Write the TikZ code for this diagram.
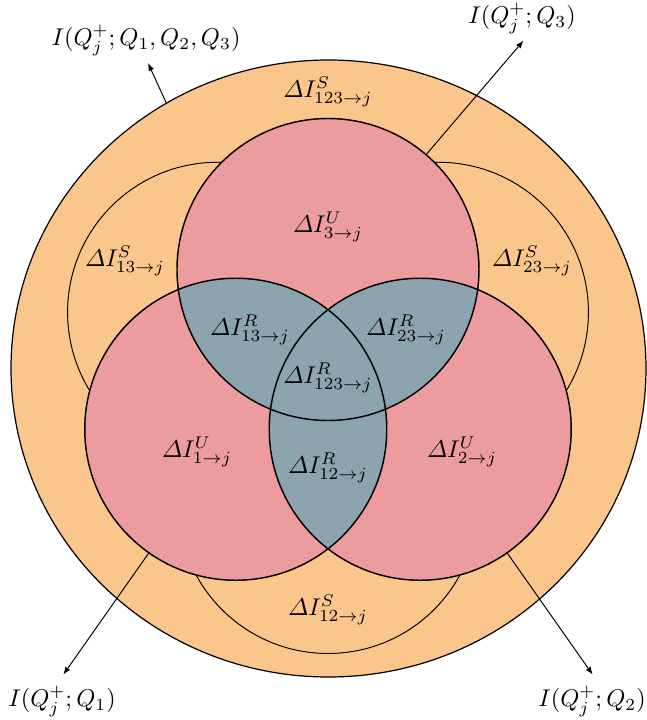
\documentclass[tikz,border=0pt]{standalone}
\usepackage{amsmath}
\usepackage{tikz}
\usetikzlibrary{arrows.meta,calc}
\definecolor{synorange}{RGB}{251,198,140}
\definecolor{unipink}{RGB}{236,156,158}
\definecolor{redgray}{RGB}{140,164,174}
\begin{document}
\begin{tikzpicture}[x=0.413pt,y=0.413pt,
  lbl/.style={inner sep=1pt},
  arr/.style={-{Latex[length=3.2pt,width=2.4pt]}, line width=0.4pt},
  maincirc/.style={line width=0.6pt},
  syncirc/.style={line width=0.4pt, fill=synorange}]
\useasboundingbox (0,0) rectangle (647,720);
\coordinate (O) at (328,344);
\coordinate (cbig) at (328.5,351.5);
\coordinate (c3) at ($(O)+(90:106.5)$);
\coordinate (c1) at ($(O)+(210:106.5)$);
\coordinate (c2) at ($(O)+(330:106.5)$);
\coordinate (s13) at ($(O)+(150:127.5)$);
\coordinate (s23) at ($(O)+(30:127.5)$);
\coordinate (s12) at ($(O)+(270:127.5)$);
% outer ellipse
\draw[line width=0.5pt, fill=synorange] (cbig) ellipse [x radius=317.5, y radius=308.5];
% synergy circles
\foreach \s in {s13,s23,s12} \draw[syncirc] (\s) circle [radius=150];
% unique circles
\foreach \c in {c1,c2,c3} \fill[unipink] (\c) circle [radius=151];
\begin{scope}
  \clip (c1) circle [radius=151];
  \fill[redgray] (c3) circle [radius=151];
  \fill[redgray] (c2) circle [radius=151];
\end{scope}
\begin{scope}
  \clip (c2) circle [radius=151];
  \fill[redgray] (c3) circle [radius=151];
\end{scope}
\foreach \c in {c1,c2,c3} \draw[maincirc] (\c) circle [radius=151];
% region labels
\node[lbl] (tS123) at (328,628) {$\varDelta I^{S}_{123\to j}$};
\node[lbl] (tU3) at (328,493) {$\varDelta I^{U}_{3\to j}$};
\node[lbl] (tS13) at (125,459) {$\varDelta I^{S}_{13\to j}$};
\node[lbl] (tS23) at (532,459) {$\varDelta I^{S}_{23\to j}$};
\node[lbl] (tR13) at (250,390) {$\varDelta I^{R}_{13\to j}$};
\node[lbl] (tR23) at (406,390) {$\varDelta I^{R}_{23\to j}$};
\node[lbl] (tR123) at (328,342) {$\varDelta I^{R}_{123\to j}$};
\node[lbl] (tU1) at (197,268) {$\varDelta I^{U}_{1\to j}$};
\node[lbl] (tU2) at (462,268) {$\varDelta I^{U}_{2\to j}$};
\node[lbl] (tR12) at (328,252) {$\varDelta I^{R}_{12\to j}$};
\node[lbl] (tS12) at (328,110) {$\varDelta I^{S}_{12\to j}$};
% outer labels
\node[lbl] (l123) at (146,680) {$I(Q_j^+;Q_1,Q_2,Q_3)$};
\node[lbl] (l3) at (522,702) {$I(Q_j^+;Q_3)$};
\node[lbl] (l1) at (62,19) {$I(Q_j^+;Q_1)$};
\node[lbl] (l2) at (592,19) {$I(Q_j^+;Q_2)$};
% arrows
\coordinate (a123s) at ($(cbig)+(120.7:317.5 and 308.5)$);
\coordinate (a123e) at (148,657);
\coordinate (a3s) at ($(c3)+(49.5:151)$);
\coordinate (a3e) at ($(c3)+(49.5:301)$);
\coordinate (a1s) at ($(c1)+(234.9:151)$);
\coordinate (a1e) at ($(c1)+(234.9:300)$);
\coordinate (a2s) at ($(c2)+(305.1:151)$);
\coordinate (a2e) at ($(c2)+(305.1:300)$);
\draw[arr] (a123s) -- (a123e);
\draw[arr] (a3s) -- (a3e);
\draw[arr] (a1s) -- (a1e);
\draw[arr] (a2s) -- (a2e);
\end{tikzpicture}
\end{document}
